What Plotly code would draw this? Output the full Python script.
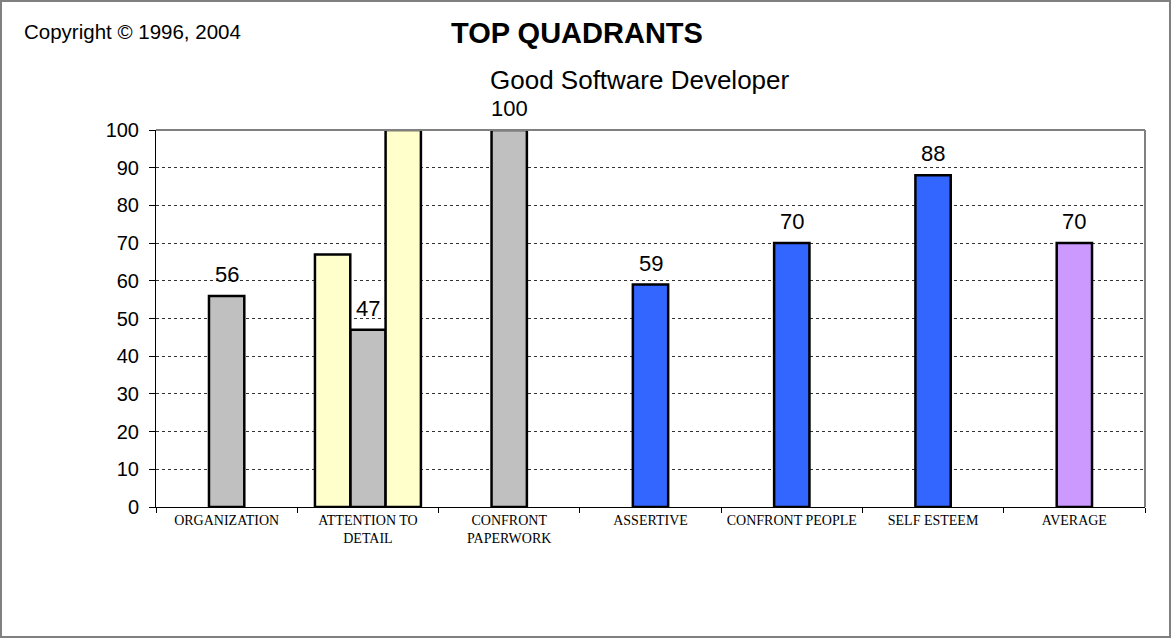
import plotly.graph_objects as go

# Chart data
categories = ["ORGANIZATION", "ATTENTION TO<br>DETAIL", "CONFRONT<br>PAPERWORK",
              "ASSERTIVE", "CONFRONT PEOPLE", "SELF ESTEEM", "AVERAGE"]
gray_cats = ["ORGANIZATION", "ATTENTION TO<br>DETAIL", "CONFRONT<br>PAPERWORK"]
gray_vals = [56, 47, 100]
yellow_left_cats = ["ATTENTION TO<br>DETAIL"]
yellow_left_vals = [67]
yellow_right_cats = ["ATTENTION TO<br>DETAIL"]
yellow_right_vals = [100]
blue_cats = ["ASSERTIVE", "CONFRONT PEOPLE", "SELF ESTEEM"]
blue_vals = [59, 70, 88]
purple_cats = ["AVERAGE"]
purple_vals = [70]
y_ticks = list(range(0, 101, 10))

W, H = 1172, 640
L, R, T, B = 156, 27, 130, 133
PW, PH = W - L - R, H - T - B


def px(x):
    return (x - L) / PW


def py(y):
    return (H - B - y) / PH


SANS = "Liberation Sans, Arial, sans-serif"
SERIF = "Liberation Serif, Times New Roman, serif"
BW = 0.25
outline = dict(color="black", width=2.5)

fig = go.Figure()
fig.add_trace(go.Bar(x=gray_cats, y=gray_vals, width=BW,
                     marker=dict(color="#C0C0C0", line=outline)))
fig.add_trace(go.Bar(x=yellow_left_cats, y=yellow_left_vals, width=BW, offset=-1.5 * BW,
                     marker=dict(color="#FFFFCC", line=outline)))
fig.add_trace(go.Bar(x=yellow_right_cats, y=yellow_right_vals, width=BW, offset=0.5 * BW,
                     marker=dict(color="#FFFFCC", line=outline)))
fig.add_trace(go.Bar(x=blue_cats, y=blue_vals, width=BW,
                     marker=dict(color="#3366FF", line=outline)))
fig.add_trace(go.Bar(x=purple_cats, y=purple_vals, width=BW,
                     marker=dict(color="#CC99FF", line=outline)))

annotations = []
# value labels above the single-colour bars
for cats, vals in [(gray_cats, gray_vals), (blue_cats, blue_vals), (purple_cats, purple_vals)]:
    for c, v in zip(cats, vals):
        annotations.append(dict(x=c, y=v, xref="x", yref="y", text=f"{v:.0f}",
                                showarrow=False, yanchor="bottom", yshift=8,
                                borderpad=0,
                                font=dict(family=SANS, size=22, color="black")))

annotations += [
    dict(x=px(22), y=py(32), xref="paper", yref="paper", text="Copyright © 1996, 2004",
         showarrow=False, xanchor="left", yanchor="middle",
         font=dict(family=SANS, size=20.5, color="black")),
    dict(x=px(577), y=py(33), xref="paper", yref="paper", text="<b>TOP QUADRANTS</b>",
         showarrow=False, xanchor="center", yanchor="middle",
         font=dict(family=SANS, size=29, color="black")),
    dict(x=px(640), y=py(80), xref="paper", yref="paper", text="Good Software Developer",
         showarrow=False, xanchor="center", yanchor="middle", borderpad=0,
         font=dict(family=SANS, size=26, color="black")),
]

shapes = [
    # plot-area frame on top and right
    dict(type="line", xref="paper", yref="paper", x0=0, x1=1, y0=1, y1=1,
         line=dict(color="#808080", width=2)),
    dict(type="line", xref="paper", yref="paper", x0=1, x1=1, y0=0, y1=1,
         line=dict(color="#808080", width=2)),
    # outer chart border
    dict(type="rect", xref="paper", yref="paper",
         x0=px(1), x1=px(1170), y0=py(637), y1=py(1),
         line=dict(color="#808080", width=2)),
]

fig.update_layout(
    width=W, height=H,
    margin=dict(l=L, r=R, t=T, b=B),
    paper_bgcolor="white", plot_bgcolor="white",
    barmode="overlay", showlegend=False,
    annotations=annotations, shapes=shapes,
    xaxis=dict(type="category", categoryorder="array", categoryarray=categories,
               range=[-0.5, len(categories) - 0.5], tickson="boundaries",
               ticks="outside", ticklen=5, tickcolor="black",
               showline=True, linecolor="black", linewidth=1,
               showgrid=False, tickangle=0,
               tickfont=dict(family=SERIF, size=14, color="black")),
    yaxis=dict(range=[0, 100], tickvals=y_ticks, ticks="outside", ticklen=6,
               tickcolor="black", showline=True, linecolor="black", linewidth=1,
               showgrid=True, gridcolor="#333333", griddash="dot", gridwidth=1,
               zeroline=False, ticklabelstandoff=6,
               tickfont=dict(family=SANS, size=20, color="black")),
)

fig.write_html("out.html")
